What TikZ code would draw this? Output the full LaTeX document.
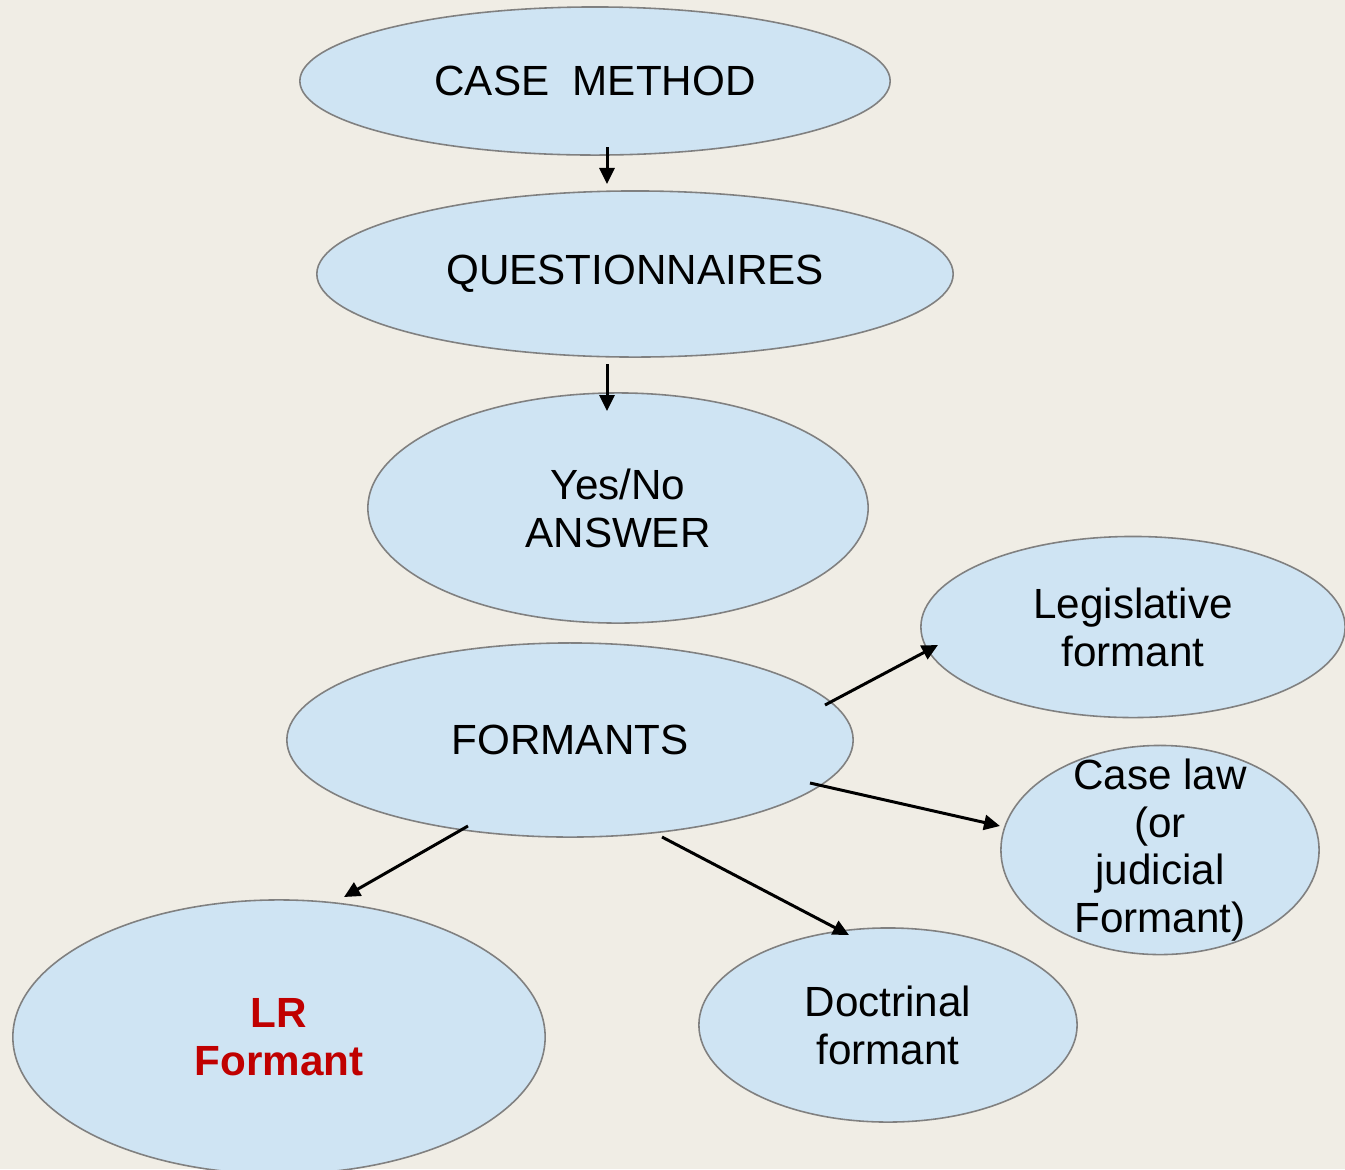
\documentclass[tikz,border=0pt]{standalone}
\usepackage{fontspec}
\setmainfont{Liberation Sans}
\usepackage{xcolor}
\usetikzlibrary{arrows.meta}
\usetikzlibrary{shapes.geometric}

\definecolor{bgcol}{RGB}{240,237,229}
\definecolor{bubfill}{RGB}{207,228,243}
\definecolor{bubline}{RGB}{128,128,128}
\definecolor{lrred}{RGB}{192,0,0}

\tikzset{
bub/.style 2 args={ellipse, draw=bubline, line width=0.45pt, fill=bubfill,
  minimum width=#1cm, minimum height=#2cm, inner sep=0pt, align=center,
  font=\fontsize{12}{13.6}\selectfont},
arr/.style={-{Triangle[length=0.16cm,width=0.15cm]}, line width=0.85pt}
}

\begin{document}
\begin{tikzpicture}[x=0.01cm,y=-0.01cm]

\fill[bgcol] (0,0) rectangle (1345,1169);
\useasboundingbox (0,0) rectangle (1345,1169);
\clip (0,0) rectangle (1345,1169);

\node[bub={5.90}{1.48}] (cm) at (595,81) {CASE\ \ METHOD};
\node[bub={6.36}{1.66}] (qu) at (635,274) {QUESTIONNAIRES};
\node[bub={5.00}{2.30}] (yn) at (618,508) {Yes/No\\ANSWER};
\node[bub={5.66}{1.94}] (fo) at (570,740) {FORMANTS};
\node[bub={4.24}{1.81}] (lf) at (1133,627) {Legislative\\formant};
\node[bub={3.18}{2.09}, label={[align=center, font=\fontsize{12}{13.6}\selectfont]center:Case law\\(or\\judicial\\Formant)}] (cl) at (1160,850) {};
\node[bub={3.78}{1.94}] (df) at (888,1025) {Doctrinal\\formant};
\node[bub={5.32}{2.74}, text=lrred, font=\fontsize{12}{13.6}\selectfont\bfseries] (lr) at (279,1037) {LR\\Formant};

% arrows
\draw[arr] ([shift={(12,66)}]cm.center) -- ([shift={(-28,-90)}]qu.center);
\draw[arr] ([shift={(-28,90)}]qu.center) -- ([shift={(-11,-97)}]yn.center);
\draw[arr] ([shift={(255,-35)}]fo.center) -- ([shift={(-195,18)}]lf.center);
\draw[arr] ([shift={(240,43)}]fo.center) -- ([shift={(-160,-24)}]cl.center);
\draw[arr] ([shift={(92,97)}]fo.center) -- ([shift={(-39,-90)}]df.center);
\draw[arr] ([shift={(-102,86)}]fo.center) -- ([shift={(65,-140)}]lr.center);

\end{tikzpicture}
\end{document}
